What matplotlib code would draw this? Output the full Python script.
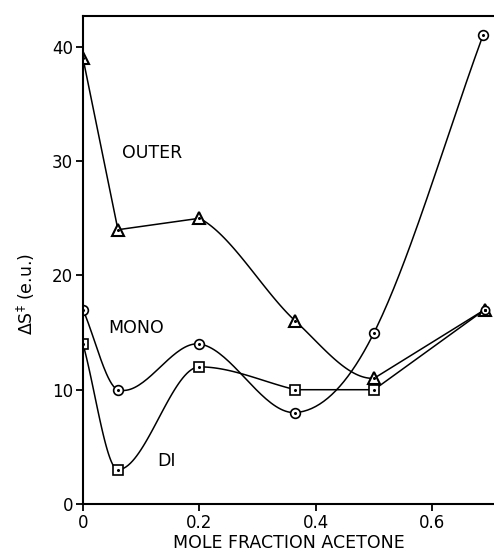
import numpy as np
import matplotlib
matplotlib.use("Agg")
import matplotlib.pyplot as plt

# ---- data ----
outer_x = [0.0, 0.06, 0.2, 0.365, 0.5, 0.69]
outer_y = [39, 24, 25, 16, 11, 17]
mono_x = [0.0, 0.06, 0.2, 0.365, 0.5, 0.687]
mono_y = [17, 10, 14, 8, 15, 41]
di_x = [0.0, 0.06, 0.2, 0.365, 0.5, 0.69]
di_y = [14, 3, 12, 10, 10, 17]
xticks = [0, 0.2, 0.4, 0.6]
xticklabels = ["0", "0.2", "0.4", "0.6"]
yticks = [0, 10, 20, 30, 40]
yticklabels = ["0", "10", "20", "30", "40"]


def hermite(x, y, n=40, monotone=False):
    x = np.asarray(x, float); y = np.asarray(y, float)
    d = np.diff(y) / np.diff(x)
    m = np.zeros_like(y)
    m[0], m[-1] = d[0], d[-1]
    for i in range(1, len(x) - 1):
        if monotone:
            if d[i - 1] * d[i] <= 0:
                m[i] = 0.0
            else:
                m[i] = 2.0 / (1.0 / d[i - 1] + 1.0 / d[i])
        else:
            m[i] = (y[i + 1] - y[i - 1]) / (x[i + 1] - x[i - 1])
    xs, ys = [], []
    for i in range(len(x) - 1):
        h = x[i + 1] - x[i]
        t = np.linspace(0, 1, n)
        h00 = 2 * t**3 - 3 * t**2 + 1
        h10 = t**3 - 2 * t**2 + t
        h01 = -2 * t**3 + 3 * t**2
        h11 = t**3 - t**2
        xs.append(x[i] + t * h)
        ys.append(h00 * y[i] + h10 * h * m[i] + h01 * y[i + 1] + h11 * h * m[i + 1])
    return np.concatenate(xs), np.concatenate(ys)


fig = plt.figure(figsize=(4.94, 5.53), dpi=100)
ax = fig.add_axes([83 / 494, 1 - 504 / 553, 1 - 83 / 494, (504 - 16) / 553])

lw = 1.1
# OUTER: straight first two segments, smooth middle, straight last
ax.plot(outer_x[:3], outer_y[:3], color="black", lw=lw)
cx, cy = hermite(outer_x, outer_y)
sel = (cx >= outer_x[2]) & (cx <= outer_x[4])
ax.plot(cx[sel], cy[sel], color="black", lw=lw)
ax.plot(outer_x[4:], outer_y[4:], color="black", lw=lw)
ax.plot(outer_x, outer_y, ls="none", marker="^", ms=9, mfc="white", mec="black", mew=1.5)

# MONO
cx, cy = hermite(mono_x, mono_y)
ax.plot(cx, cy, color="black", lw=lw)
ax.plot(mono_x, mono_y, ls="none", marker="o", ms=7, mfc="white", mec="black", mew=1.2)

# DI
cx, cy = hermite(di_x[:4], di_y[:4], monotone=True)
ax.plot(cx, cy, color="black", lw=lw)
ax.plot(di_x[3:], di_y[3:], color="black", lw=lw)
ax.plot(di_x[:5], di_y[:5], ls="none", marker="s", ms=7, mfc="white", mec="black", mew=1.2)
ax.plot(di_x[5:], di_y[5:], ls="none", marker="o", ms=6, mfc="white", mec="black", mew=1.2)

# center dots
for xs_, ys_ in [(outer_x, outer_y), (mono_x, mono_y), (di_x, di_y)]:
    ax.plot(xs_, ys_, ls="none", marker="o", ms=1.2, color="black")

ax.text(0.067, 30.7, "OUTER", fontsize=12.5, va="center", ha="left")
ax.text(0.043, 15.4, "MONO", fontsize=12.5, va="center", ha="left")
ax.text(0.127, 3.8, "DI", fontsize=12.5, va="center", ha="left")

ax.set_xlim(0, 0.706)
ax.set_ylim(0, 42.7)
ax.set_xticks(xticks)
ax.set_xticklabels(xticklabels, fontsize=12)
ax.set_yticks(yticks)
ax.set_yticklabels(yticklabels, fontsize=12)
ax.tick_params(direction="out", length=5, width=1.3, pad=2)
ax.spines["right"].set_visible(False)
for s in ["left", "top", "bottom"]:
    ax.spines[s].set_linewidth(1.5)
ax.set_xlabel("MOLE FRACTION ACETONE", fontsize=12.5, labelpad=2)
ax.set_ylabel("ΔS$^{‡}$ (e.u.)", fontsize=12.5, labelpad=6)
ax.yaxis.set_label_coords(-0.112, 0.43)

fig.savefig("out.png", dpi=100)
